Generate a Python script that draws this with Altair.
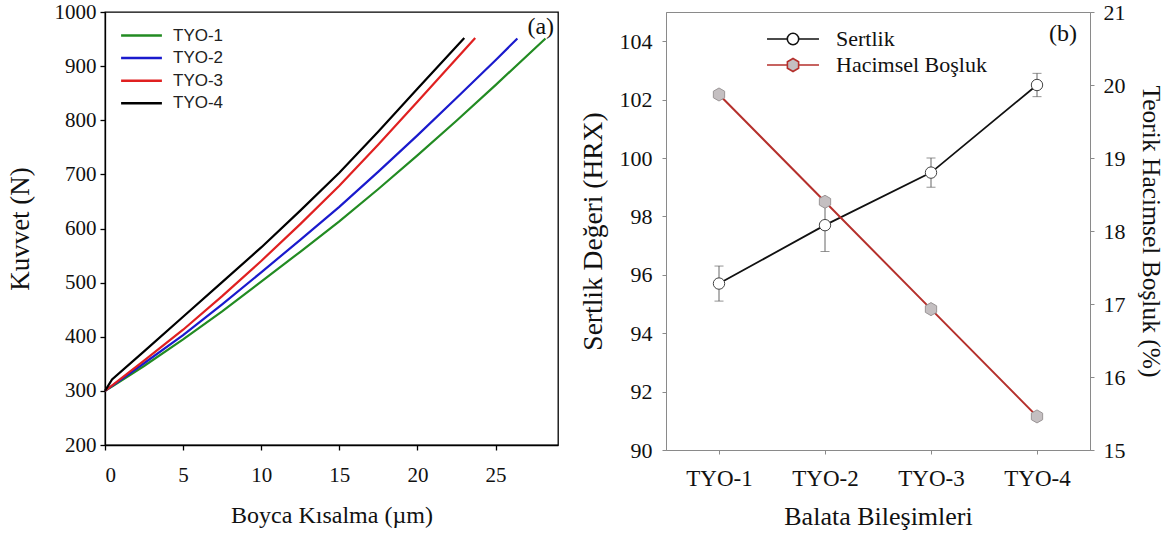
import altair as alt
import pandas as pd

# ---------------- Panel (a): force vs. shortening ----------------
series_names = ["TYO-1", "TYO-2", "TYO-3", "TYO-4"]
series_colors = ["#228b22", "#1a1acd", "#e02020", "#000000"]

tyo1_x = [0, 0.5, 2.5, 5, 7.5, 10, 12.5, 15, 17.5, 20, 22.5, 25, 28.2]
tyo1_y = [300, 309, 346, 395, 447, 502, 557, 613, 673, 735, 799, 865, 951]
tyo2_x = [0, 0.5, 2.5, 5, 7.5, 10, 12.5, 15, 17.5, 20, 22.5, 25, 26.4]
tyo2_y = [300, 310, 351, 403, 460, 519, 579, 640, 705, 772, 841, 911, 951]
tyo3_x = [0, 0.5, 2.5, 5, 7.5, 10, 12.5, 15, 17.5, 20, 23.7]
tyo3_y = [300, 311, 356, 413, 475, 540, 608, 679, 755, 834, 952]
tyo4_x = [0, 0.45, 2.5, 5, 7.5, 10, 12.5, 15, 17.5, 20, 23.0]
tyo4_y = [300, 321, 373, 437, 501, 565, 633, 703, 779, 858, 952]

x_ticks_a = [0, 5, 10, 15, 20, 25]
y_ticks_a = [200, 300, 400, 500, 600, 700, 800, 900, 1000]

# ---------------- Panel (b): hardness & porosity ----------------
comps = ["TYO-1", "TYO-2", "TYO-3", "TYO-4"]
sertlik = [95.7, 97.7, 99.5, 102.5]
sertlik_err = [0.6, 0.9, 0.5, 0.4]
bosluk = [19.87, 18.40, 16.93, 15.46]
y_ticks_b_left = [90, 92, 94, 96, 98, 100, 102, 104]
y_ticks_b_right = [15, 16, 17, 18, 19, 20, 21]
legend_b = ["Sertlik", "Hacimsel Boşluk"]

SERIF = "Liberation Serif"
SANS = "Liberation Sans"

rows = []
for name, xs, ys in zip(series_names, [tyo1_x, tyo2_x, tyo3_x, tyo4_x],
                        [tyo1_y, tyo2_y, tyo3_y, tyo4_y]):
    for i, (xv, yv) in enumerate(zip(xs, ys)):
        rows.append({"series": name, "x": xv, "y": yv, "order": i})
dfa = pd.DataFrame(rows)

xa = alt.X("x:Q", scale=alt.Scale(domain=[0, 29], nice=False, zero=False),
           axis=alt.Axis(values=x_ticks_a, title="Boyca Kısalma (µm)", grid=False,
                         format="d",
                         labelFont=SERIF, labelFontSize=21, labelColor="#111",
                         titleFont=SERIF, titleFontSize=24, titleFontWeight="normal",
                         titleColor="#111", titlePadding=18, labelPadding=14,
                         tickSize=5, tickColor="#000", domainColor="#000",
                         domainWidth=1.3, tickWidth=1.3))
ya = alt.Y("y:Q", scale=alt.Scale(domain=[200, 1000], nice=False, zero=False),
           axis=alt.Axis(values=y_ticks_a, title="Kuvvet (N)", grid=False,
                         format="d",
                         labelFont=SERIF, labelFontSize=21, labelColor="#111",
                         titleFont=SERIF, titleFontSize=27, titleFontWeight="normal",
                         titleColor="#111", titlePadding=20, labelPadding=4,
                         tickSize=5, tickColor="#000", domainColor="#000",
                         domainWidth=1.3, tickWidth=1.3))

lines_a = alt.Chart(dfa).mark_line(strokeWidth=2.2).encode(
    x=xa, y=ya,
    color=alt.Color("series:N",
                    scale=alt.Scale(domain=series_names, range=series_colors),
                    legend=alt.Legend(title=None, orient="none", legendX=28, legendY=15,
                                      symbolType="M-3.4,0H3.4", symbolSize=144,
                                      symbolStrokeWidth=2.5, labelFont=SANS,
                                      labelFontSize=17, labelColor="#222",
                                      labelOffset=23, rowPadding=4.6, padding=0)),
    order="order:Q",
)

label_a = alt.Chart(pd.DataFrame({"t": ["(a)"], "x": [28.75], "y": [973]})).mark_text(
    align="right", baseline="middle", font=SERIF, fontSize=24, color="#111"
).encode(x="x:Q", y="y:Q", text="t:N")

left = alt.layer(lines_a, label_a).properties(
    width=453, height=433,
    view=alt.ViewBackground(stroke="#000", strokeWidth=1.3))

# ---------------- Panel (b) ----------------
dfb = pd.DataFrame({
    "comp": comps,
    "sert": sertlik,
    "lo": [v - e for v, e in zip(sertlik, sertlik_err)],
    "hi": [v + e for v, e in zip(sertlik, sertlik_err)],
    "bos": bosluk,
})

GREY = "#8a8a8a"
xb = alt.X("comp:N", scale=alt.Scale(type="point", padding=0.5, domain=comps),
           axis=alt.Axis(title="Balata Bileşimleri", labelAngle=0, grid=False,
                         labelFont=SERIF, labelFontSize=23, labelColor="#111",
                         titleFont=SERIF, titleFontSize=26, titleFontWeight="normal",
                         titleColor="#111", titlePadding=13, labelPadding=13,
                         tickSize=4, tickColor=GREY, domainColor=GREY))
ysc_l = alt.Scale(domain=[90, 105], nice=False, zero=False)
yax_l = alt.Axis(values=y_ticks_b_left, title="Sertlik Değeri (HRX)", grid=False,
                 labelFont=SERIF, labelFontSize=22, labelColor="#111",
                 titleFont=SERIF, titleFontSize=27.5, titleFontWeight="normal",
                 titleColor="#111", titlePadding=12, labelPadding=10,
                 tickSize=4, tickColor=GREY, domainColor=GREY)
ysc_r = alt.Scale(domain=[15, 21], nice=False, zero=False)
yax_r = alt.Axis(orient="right", values=y_ticks_b_right,
                 title="Teorik Hacimsel Boşluk (%)", grid=False,
                 labelFont=SERIF, labelFontSize=22, labelColor="#111",
                 titleFont=SERIF, titleFontSize=25.5, titleFontWeight="normal",
                 titleColor="#111", titlePadding=12, labelPadding=9,
                 tickSize=4, tickColor=GREY, domainColor=GREY)

base_b = alt.Chart(dfb)
sert_line = base_b.mark_line(color="#111", strokeWidth=1.8).encode(
    x=xb, y=alt.Y("sert:Q", scale=ysc_l, axis=yax_l))
sert_err = base_b.mark_rule(color="#555", strokeWidth=0.9).encode(
    x=xb, y=alt.Y("lo:Q", scale=ysc_l, axis=yax_l), y2="hi:Q")
sert_cap_lo = base_b.mark_tick(color="#555", size=9, thickness=0.9).encode(
    x=xb, y=alt.Y("lo:Q", scale=ysc_l, axis=yax_l))
sert_cap_hi = base_b.mark_tick(color="#555", size=9, thickness=0.9).encode(
    x=xb, y=alt.Y("hi:Q", scale=ysc_l, axis=yax_l))
sert_pts = base_b.mark_point(shape="circle", size=130, filled=True, fill="white",
                             stroke="#444", strokeWidth=1, opacity=1).encode(
    x=xb, y=alt.Y("sert:Q", scale=ysc_l, axis=yax_l))

leg_paths = [
    "M-4.33,0H-0.95A0.95,0.95 0 1 1 0.95,0H4.33M0.95,0A0.95,0.95 0 1 1 -0.95,0",
    "M-4.33,0H-0.935V-0.54L0,-1.08L0.935,-0.54V0H4.33M0.935,0V0.54L0,1.08L-0.935,0.54V0",
]
leg_b = alt.Legend(title=None, orient="none", legendX=677, legendY=16,
                   symbolSize=144, symbolStrokeWidth=1.6, labelFont=SERIF,
                   labelFontSize=22, labelColor="#111", labelOffset=32,
                   rowPadding=4, padding=0)
leg_df = pd.DataFrame({"series": legend_b, "comp": comps[:2], "sert": sertlik[:2]})
legend_layer = alt.Chart(leg_df).transform_filter("false").mark_point(
    filled=True, opacity=1).encode(
    x=xb, y=alt.Y("sert:Q", scale=ysc_l, axis=yax_l),
    shape=alt.Shape("series:N", scale=alt.Scale(domain=legend_b, range=leg_paths), legend=leg_b),
    fill=alt.Fill("series:N", scale=alt.Scale(domain=legend_b, range=["white", "#c4bfc1"]), legend=leg_b),
    stroke=alt.Stroke("series:N", scale=alt.Scale(domain=legend_b, range=["#111", "#b5302c"]), legend=leg_b),
)
label_b = alt.Chart(pd.DataFrame({"t": ["(b)"]})).mark_text(
    align="right", baseline="middle", font=SERIF, fontSize=24, color="#111"
).encode(x=alt.value(411), y=alt.value(22), text="t:N")

left_sub = alt.layer(sert_line, sert_err, sert_cap_lo, sert_cap_hi, sert_pts,
                     legend_layer, label_b)

bos_line = base_b.mark_line(color="#b5302c", strokeWidth=2).encode(
    x=xb, y=alt.Y("bos:Q", scale=ysc_r, axis=yax_r))
bos_pts = base_b.mark_point(shape="M0,-1L0.866,-0.5L0.866,0.5L0,1L-0.866,0.5L-0.866,-0.5Z",
                            size=170, filled=True, fill="#c4bfc1", stroke="#9a9596",
                            strokeWidth=1, opacity=1).encode(
    x=xb, y=alt.Y("bos:Q", scale=ysc_r, axis=yax_r))
right_sub = alt.layer(bos_line, bos_pts)

right = alt.layer(left_sub, right_sub).resolve_scale(y="independent").properties(
    width=424, height=438,
    view=alt.ViewBackground(stroke=GREY, strokeWidth=1))

chart = alt.hconcat(left, right, spacing=19).properties(
    padding={"left": 5, "top": 0, "right": 5, "bottom": 5},
    background="white",
).configure(font=SERIF)

chart.save("out.html", embed_options={"renderer": "svg", "actions": False})
